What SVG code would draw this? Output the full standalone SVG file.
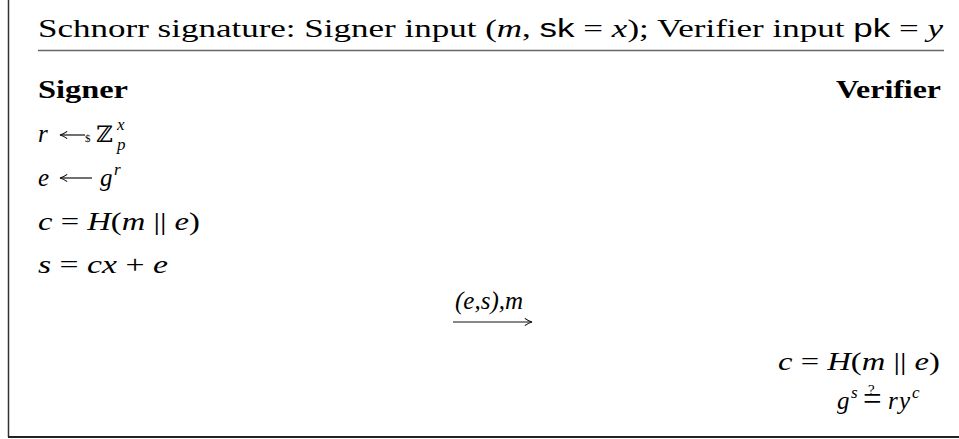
<svg xmlns="http://www.w3.org/2000/svg" width="959" height="439" viewBox="0 0 959 439">
<style>
.t{font-family:"Liberation Serif","DejaVu Serif",serif;font-size:25px;fill:#000}
.i{font-style:italic}
.b{font-weight:bold}
.sf{font-family:"Liberation Sans",sans-serif;font-style:normal}
.sup{font-size:17px}
.bb{font-family:"DejaVu Serif",serif;font-style:normal}
.frame{stroke:#333;stroke-width:1.5;fill:none}
.rule{stroke:#666;stroke-width:1.5}
.conn{stroke:#111;stroke-width:1.2;fill:none}
</style>
<defs>
<marker id="ah" viewBox="0 0 10 10" refX="9" refY="5" markerWidth="9" markerHeight="9" orient="auto" markerUnits="userSpaceOnUse">
<path d="M1,1 Q5,4 9,5 Q5,6 1,9" fill="none" stroke="#111" stroke-width="1.2"/>
</marker>
</defs>
<g id="frame">
<line class="frame" x1="8.5" y1="0" x2="8.5" y2="437"/>
<line x1="8" y1="437" x2="959" y2="437" stroke="#222" stroke-width="2"/>
<line class="rule" x1="38" y1="50.5" x2="944" y2="50.5"/>
</g>
<g id="title">
<text class="t" x="38" y="37" font-size="26" textLength="905" lengthAdjust="spacingAndGlyphs">Schnorr signature: Signer input (<tspan class="i">m</tspan>, <tspan class="sf">sk</tspan> = <tspan class="i">x</tspan>); Verifier input <tspan class="sf">pk</tspan> = <tspan class="i">y</tspan></text>
</g>
<g id="signer">
<text class="t b" x="38" y="98" textLength="90" lengthAdjust="spacingAndGlyphs">Signer</text>
<text class="t" x="38" y="142"><tspan class="i">r</tspan><tspan x="85" font-size="11">$</tspan><tspan class="bb" x="96" font-size="23">ℤ</tspan><tspan class="i sup" x="117" dy="-12">x</tspan><tspan class="i sup" x="117" dy="20">p</tspan></text>
<line class="conn" x1="85" y1="135" x2="60" y2="135" marker-end="url(#ah)"/>
<text class="t" x="38" y="186"><tspan class="i">e</tspan><tspan class="i" x="100">g</tspan><tspan class="i sup" x="114" dy="-11">r</tspan></text>
<line class="conn" x1="92" y1="178" x2="60" y2="178" marker-end="url(#ah)"/>
<text class="t" x="38" y="230" textLength="162" lengthAdjust="spacingAndGlyphs"><tspan class="i">c</tspan> = <tspan class="i">H</tspan>(<tspan class="i">m</tspan> || <tspan class="i">e</tspan>)</text>
<text class="t" x="38" y="273" textLength="130" lengthAdjust="spacingAndGlyphs"><tspan class="i">s</tspan> = <tspan class="i">cx</tspan> + <tspan class="i">e</tspan></text>
</g>
<g id="verifier">
<text class="t b" x="836" y="98" textLength="105" lengthAdjust="spacingAndGlyphs">Verifier</text>
<text class="t" x="778" y="370" textLength="162" lengthAdjust="spacingAndGlyphs"><tspan class="i">c</tspan> = <tspan class="i">H</tspan>(<tspan class="i">m</tspan> || <tspan class="i">e</tspan>)</text>
<text class="t" x="837" y="409"><tspan class="i">g</tspan><tspan class="i sup" x="851" dy="-11">s</tspan><tspan x="863" dy="12" font-size="33">=</tspan><tspan x="868" dy="-15" font-size="15">?</tspan><tspan class="i" x="888" dy="14">r</tspan><tspan class="i" x="899">y</tspan><tspan class="i sup" x="912" dy="-11">c</tspan></text>
</g>
<g id="connectors">
<line class="conn" x1="453" y1="322" x2="532" y2="322" marker-end="url(#ah)"/>
<text class="t i" x="455" y="309" font-size="18" textLength="68" lengthAdjust="spacingAndGlyphs">(e,s),m</text>
</g>
</svg>
